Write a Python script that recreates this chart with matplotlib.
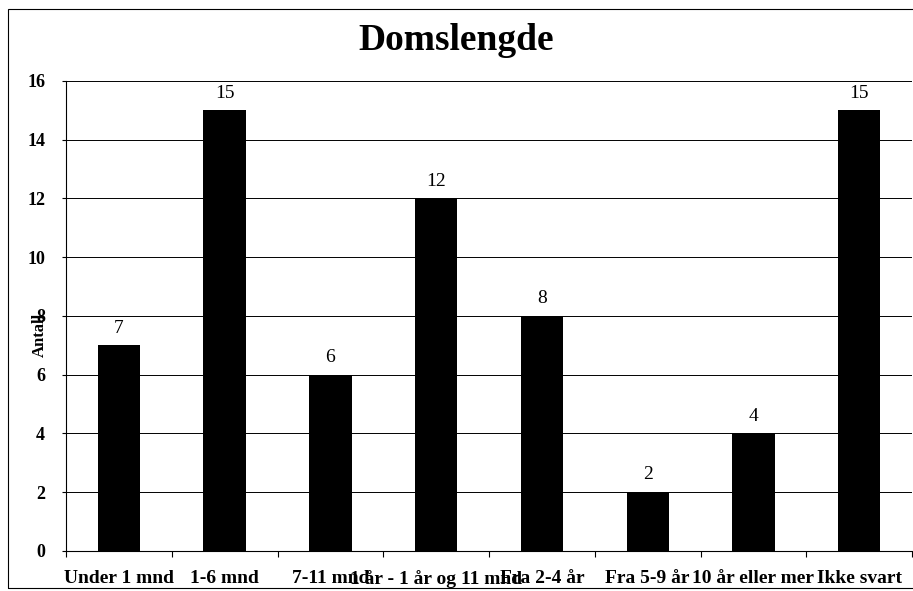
import matplotlib.pyplot as plt
import numpy as np
from matplotlib.patches import Rectangle

categories = ["Under 1 mnd", "1-6 mnd", "7-11 mnd", "1 år - 1 år og 11 mnd",
              "Fra 2-4 år", "Fra 5-9 år", "10 år eller mer", "Ikke svart"]
antall = [7, 15, 6, 12, 8, 2, 4, 15]
yticks = [0, 2, 4, 6, 8, 10, 12, 14, 16]

plt.rcParams['font.family'] = ['Liberation Serif', 'DejaVu Serif']

fig = plt.figure(figsize=(9.13, 5.91), dpi=100)
ax = fig.add_axes([0.0723, 0.0677, 0.9267, 0.7953])

# outer chart border
fig.patches.append(Rectangle((8 / 913, 3 / 591), 1.2, 579 / 591, transform=fig.transFigure,
                             fill=False, edgecolor='black', linewidth=0.8))

x = np.arange(len(categories))
ax.bar(x, antall, width=0.4, color='black', zorder=3)

for xi, v in zip(x, antall):
    ax.text(xi, v + 0.3, str(v), ha='center', va='bottom', fontsize=14, zorder=4)

ax.set_xlim(-0.5, len(categories) - 0.5)
ax.set_ylim(0, 16)
ax.set_yticks(yticks)
ax.yaxis.grid(True, color='black', linewidth=0.7, zorder=0)
ax.tick_params(axis='y', direction='out', length=3, width=0.8, pad=12, labelsize=13)
for lab in ax.get_yticklabels():
    lab.set_fontweight('bold')

ax.set_xticks(x)
ax.set_xticklabels(categories, fontsize=14, fontweight='bold')
ax.set_xticks(np.arange(len(categories) + 1) - 0.5, minor=True)
ax.tick_params(axis='x', which='major', length=0, pad=14)
ax.tick_params(axis='x', which='minor', direction='out', length=4, width=0.8)

for side in ['top', 'right']:
    ax.spines[side].set_visible(False)
ax.spines['left'].set_linewidth(0.8)
ax.spines['bottom'].set_linewidth(0.8)

ax.set_ylabel("Antall", fontsize=12, fontweight='bold')
ax.yaxis.set_label_coords(-0.021, 0.46)

fig.text(0.5, 0.932, "Domslengde", ha='center', va='center', fontsize=27, fontweight='bold')

fig.savefig("out.png", dpi=100)
